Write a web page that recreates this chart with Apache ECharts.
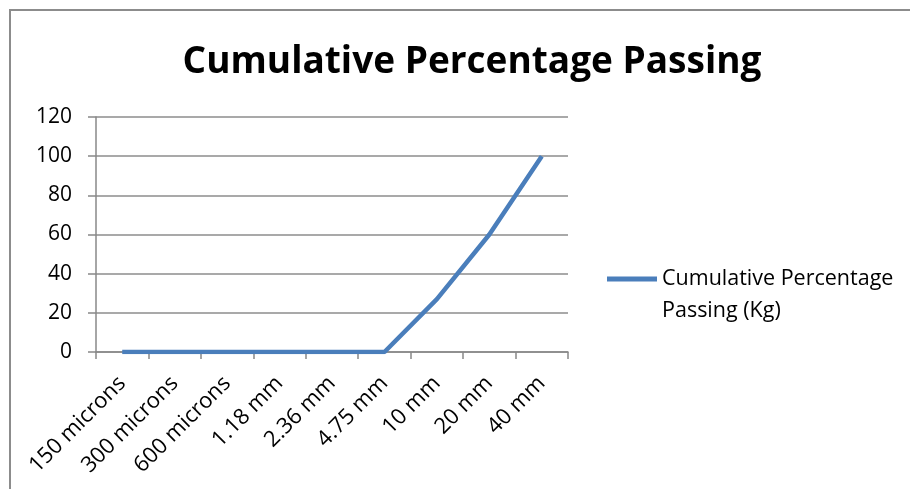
<!DOCTYPE html>
<html>
<head>
<meta charset="utf-8">
<script src="https://cdn.jsdelivr.net/npm/echarts@6/dist/echarts.min.js"></script>
<style>
  html, body { margin: 0; padding: 0; background: #fff; }
  #chart { width: 910px; height: 489px; }
</style>
</head>
<body>
<div id="chart"></div>
<script>
// Sieve sizes and cumulative percentage passing
const sieveSizes = ['150 microns', '300 microns', '600 microns', '1.18 mm', '2.36 mm', '4.75 mm', '10 mm', '20 mm', '40 mm'];
const cumulativePassing = [0, 0, 0, 0, 0, 0, 27, 60, 100];
const seriesName = 'Cumulative Percentage Passing (Kg)';
const chartTitle = 'Cumulative Percentage Passing';

const chart = echarts.init(document.getElementById('chart'));
const font = '"Open Sans", "Noto Sans", sans-serif';

chart.setOption({
  animation: false,
  backgroundColor: '#ffffff',
  title: {
    text: chartTitle,
    left: 467,
    top: 39,
    textAlign: 'center',
    textStyle: { fontFamily: font, fontSize: 37, fontWeight: 'bold', color: '#000' }
  },
  graphic: [{
    type: 'polyline',
    shape: { points: [[10, 489], [10, 10], [910, 10]] },
    style: { stroke: '#8c8c8c', lineWidth: 2, fill: null },
    silent: true
  }],
  legend: {
    left: 602,
    top: 226,
    orient: 'vertical',
    itemWidth: 50,
    itemHeight: 5,
    icon: 'rect',
    // blank leading line keeps the key level with the first text line
    formatter: () => ' \nCumulative Percentage\nPassing (Kg)',
    textStyle: { fontFamily: font, fontSize: 21.5, color: '#000', lineHeight: 32 },
    data: [seriesName]
  },
  grid: { left: 96, right: 342, top: 117, bottom: 137 },
  xAxis: {
    type: 'category',
    data: sieveSizes,
    boundaryGap: true,
    axisLine: { lineStyle: { color: '#888', width: 1.5 } },
    axisTick: { show: true, length: 7, lineStyle: { color: '#888', width: 1.5 } },
    axisLabel: { rotate: 45, margin: 28, fontFamily: font, fontSize: 22, color: '#000', interval: 0 },
    splitLine: { show: false }
  },
  yAxis: {
    type: 'value',
    min: 0,
    max: 120,
    interval: 20,
    axisLine: { show: true, lineStyle: { color: '#888', width: 1.5 } },
    axisTick: { show: true, length: 8, lineStyle: { color: '#888', width: 1.5 } },
    axisLabel: { margin: 24, fontFamily: font, fontSize: 21, color: '#000' },
    splitLine: { lineStyle: { color: '#8c8c8c', width: 1.5 } }
  },
  series: [{
    name: seriesName,
    type: 'line',
    data: cumulativePassing,
    symbol: 'none',
    lineStyle: { color: '#4a7ebb', width: 4.5 },
    itemStyle: { color: '#4a7ebb' }
  }]
});
</script>
</body>
</html>
